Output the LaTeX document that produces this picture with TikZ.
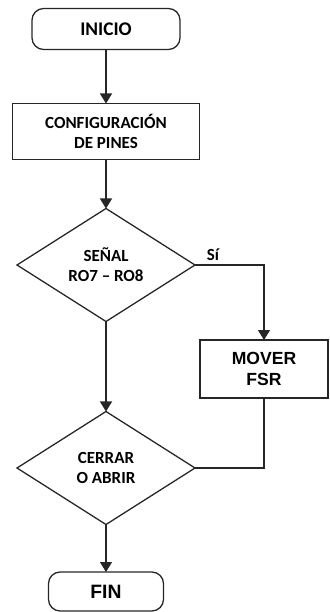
\documentclass[tikz,border=0pt]{standalone}
\usepackage{fontspec}
\setmainfont{Carlito}
\newfontfamily\arialfont{Liberation Sans}
\usetikzlibrary{arrows.meta, positioning, shapes.geometric}
\tikzstyle{flow}=[line width=1.1pt, draw=black!85, >={Triangle[width=3.6mm,length=3mm]},
  font=\fontsize{14.5}{17}\selectfont\bfseries]
\tikzstyle{terminal}=[draw, rounded corners=3.5mm, outer sep=0pt, inner sep=0pt]
\tikzstyle{process}=[draw, rectangle, align=center, outer sep=0pt, inner sep=0pt]
\tikzstyle{decision}=[draw, diamond, align=center, outer sep=0pt, inner sep=0pt,
  minimum width=5.34cm, minimum height=3.39cm]

\begin{document}
\begin{tikzpicture}[flow]
  \useasboundingbox (0,0) rectangle (9.87,-18.36);
  \node[terminal, minimum width=4.44cm, minimum height=1.23cm, font=\fontsize{16.5}{19}\selectfont\bfseries] (inicio) at (3.18,-0.87) {INICIO};
  \node[process, minimum width=5.61cm, minimum height=1.68cm] (config) [below=1.62cm of inicio] {CONFIGURACIÓN\\DE PINES};
  \node[decision] (senal) [below=1.47cm of config] {SEÑAL\\RO7 -- RO8};
  \node[decision] (cerrar) [below=2.7cm of senal] {CERRAR\\O ABRIR};
  \node[terminal, minimum width=3.45cm, minimum height=1.17cm, font=\arialfont\bfseries\fontsize{16.5}{19}\selectfont] (fin) [below=1.425cm of cerrar] {FIN};
  \node[process, minimum width=3.84cm, minimum height=1.74cm, font=\arialfont\bfseries\fontsize{15}{18}\selectfont] (mover) at (7.92,-11.07) {MOVER\\FSR};
  \draw[->] (inicio) -- (config);
  \draw[->] (config) -- (senal);
  \draw[->] (senal) -- (cerrar);
  \draw[->] (cerrar) -- (fin);
  \draw[->] (senal.east) -| node[pos=0.13, above] {Sí} (mover);
  \draw (mover.south) |- (cerrar.east);
\end{tikzpicture}
\end{document}
